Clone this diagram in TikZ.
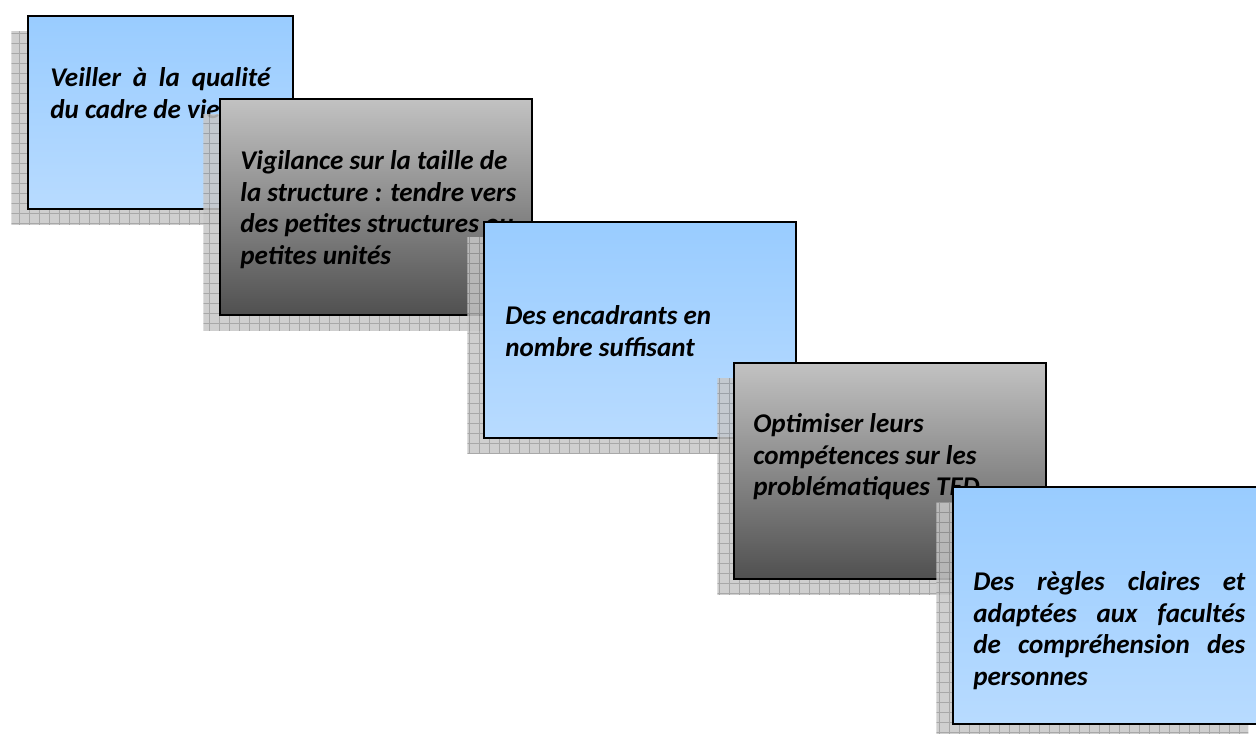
\documentclass[tikz,border=0pt]{standalone}
\usepackage{fontspec}
\setmainfont{Carlito}
\usepackage{tikz}
\usetikzlibrary{patterns.meta}
\definecolor{bleuhaut}{RGB}{153,204,255}
\definecolor{bleubas}{RGB}{184,219,255}
\definecolor{grishaut}{RGB}{194,194,194}
\definecolor{grisbas}{RGB}{80,80,80}
\tikzdeclarepattern{
  name=quadrillage,
  type=colored,
  bottom left={(0pt,0pt)},
  top right={(5.69pt,5.69pt)},
  tile size={(5.69pt,5.69pt)},
  code={
    \fill[black!22] (0pt,0pt) rectangle (5.69pt,5.69pt);
    \draw[black!40, line width=0.5pt] (0pt,0.25pt) -- (5.69pt,0.25pt) (0.25pt,0pt) -- (0.25pt,5.69pt);
  }
}

\begin{document}
\begin{tikzpicture}[
  x=0.02cm, y=-0.02cm,
  font=\fontsize{15.4}{18.1}\selectfont\bfseries\itshape,
  bloc/.style={draw=black, line width=1.2pt, anchor=north west, inner sep=0pt, minimum width=6.24cm, minimum height=4.32cm},
  bleu/.style={bloc, top color=bleuhaut, bottom color=bleubas},
  gris/.style={bloc, top color=grishaut, bottom color=grisbas},
  ombre/.style={anchor=north west, inner sep=0pt, minimum width=6.24cm, minimum height=4.32cm, pattern=quadrillage, fill opacity=0.85},
  texte/.style={anchor=north west, inner sep=0pt, align=left},
  just/.style={texte, align=justify},
]
\clip (0,0) rectangle (1256,733);
\node[ombre, minimum width=5.3cm, minimum height=3.86cm] (o1) at (11,31) {};
\node[bleu, minimum width=5.3cm, minimum height=3.86cm] (b1) at (27,15) {};
\node[just, text width=4.4cm] (t1) at (50,67) {Veiller à la qualité\linebreak du cadre de vie};
\node[ombre] (o2) at (203,114) {};
\node[gris] (b2) at (219,98) {};
\node[texte] (t2) at (240,150) {Vigilance sur la taille de\\la structure : tendre vers\\des petites structures ou\\petites unités};
\node[ombre] (o3) at (467,237) {};
\node[bleu] (b3) at (483,221) {};
\node[texte] (t3) at (505,305) {Des encadrants en\\nombre suffisant};
\node[ombre] (o4) at (717,378) {};
\node[gris] (b4) at (733,362) {};
\node[texte] (t4) at (753,413) {Optimiser leurs\\compétences sur les\\problématiques TED};
\node[ombre, minimum height=4.74cm] (o5) at (936,502) {};
\node[bleu, minimum height=4.74cm] (b5) at (952,486) {};
\node[just, text width=5.44cm] (t5) at (973,571) {Des règles claires et\linebreak adaptées aux facultés\linebreak de compréhension des\linebreak personnes};
\end{tikzpicture}
\end{document}
